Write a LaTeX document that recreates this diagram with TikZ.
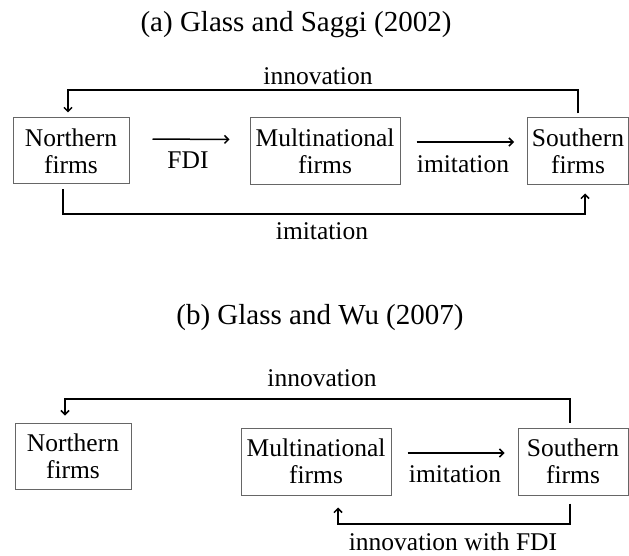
\documentclass[tikz,border=0pt]{standalone}
\usepackage{fontspec}
\setmainfont{Liberation Serif}
\usepackage{tikz}
\usetikzlibrary{arrows.meta,calc}

\begin{document}
\begin{tikzpicture}[x=1pt, y=-1pt,
    firm/.style={draw=gray!80!black, line width=1pt, inner sep=0pt, align=center, font=\fontsize{25.5}{27}\selectfont},
    lbl/.style={inner sep=0pt, font=\fontsize{25.5}{27}\selectfont},
    ttl/.style={inner sep=0pt, font=\fontsize{29}{31}\selectfont},
    arrow/.style={-{Straight Barb[length=4pt, width=8pt]}, line width=1.5pt}
]
\useasboundingbox (0,0) rectangle (629,556);

% Titles
\node[ttl] (titleA) at (296,25) {(a) Glass and Saggi (2002)};
\node[ttl] (titleB) at (320,318) {(b) Glass and Wu (2007)};

% (a) Firms
\node[firm, minimum width=116pt, minimum height=66pt] (nrtA) at (71,151) {Northern\\firms};
\node[firm, minimum width=150pt, minimum height=67pt] (mulA) at (325,151.5) {Multinational\\firms};
\node[firm, minimum width=101pt, minimum height=67pt] (souA) at (578,151.5) {Southern\\firms};

% (a) Transitions
\draw[arrow, shorten <=23pt, shorten >=20pt] ([yshift=12pt]nrtA.east) -- ([yshift=12pt]mulA.west);
\node[lbl] (fdiA) at (188,160) {FDI};
\draw[arrow, shorten <=16pt, shorten >=13pt] ([yshift=9.5pt]mulA.east) -- ([yshift=9.5pt]souA.west);
\node[lbl] (imiA) at (463,164) {imitation};

\coordinate (topA) at (0,90);
\coordinate (botA) at (0,214);
\draw[arrow, shorten <=4pt, shorten >=5pt] (souA.north) -- (souA.north |- topA)
    -| ([xshift=-3pt]nrtA.north);
\node[lbl] (innA) at (318,76) {innovation};
\draw[arrow, shorten <=5pt, shorten >=8pt] ([xshift=-8pt]nrtA.south) -- ([xshift=-8pt]nrtA.south |- botA)
    -| ([xshift=7pt]souA.south);
\node[lbl] (imiA2) at (322,231) {imitation};

% (b) Firms
\node[firm, minimum width=116pt, minimum height=66pt] (nrtB) at (73,456) {Northern\\firms};
\node[firm, minimum width=150pt, minimum height=67pt] (mulB) at (316,461.5) {Multinational\\firms};
\node[firm, minimum width=110pt, minimum height=67pt] (souB) at (573,461.5) {Southern\\firms};

% (b) Transitions
\draw[arrow, shorten <=16pt, shorten >=13pt] ([yshift=8.5pt]mulB.east) -- ([yshift=8.5pt]souB.west);
\node[lbl] (imiB) at (455,474) {imitation};

\coordinate (topB) at (0,399);
\coordinate (botB) at (0,524);
\draw[arrow, shorten <=5pt, shorten >=7pt] ([xshift=-3pt]souB.north) -- ([xshift=-3pt]souB.north |- topB)
    -| ([xshift=-8pt]nrtB.north);
\node[lbl] (innB) at (322,378) {innovation};
\draw[arrow, shorten <=8pt, shorten >=12pt] ([xshift=-3pt]souB.south) -- ([xshift=-3pt]souB.south |- botB)
    -| ([xshift=22pt]mulB.south);
\node[lbl] (innFdiB) at (453,542) {innovation with FDI};

\end{tikzpicture}
\end{document}
